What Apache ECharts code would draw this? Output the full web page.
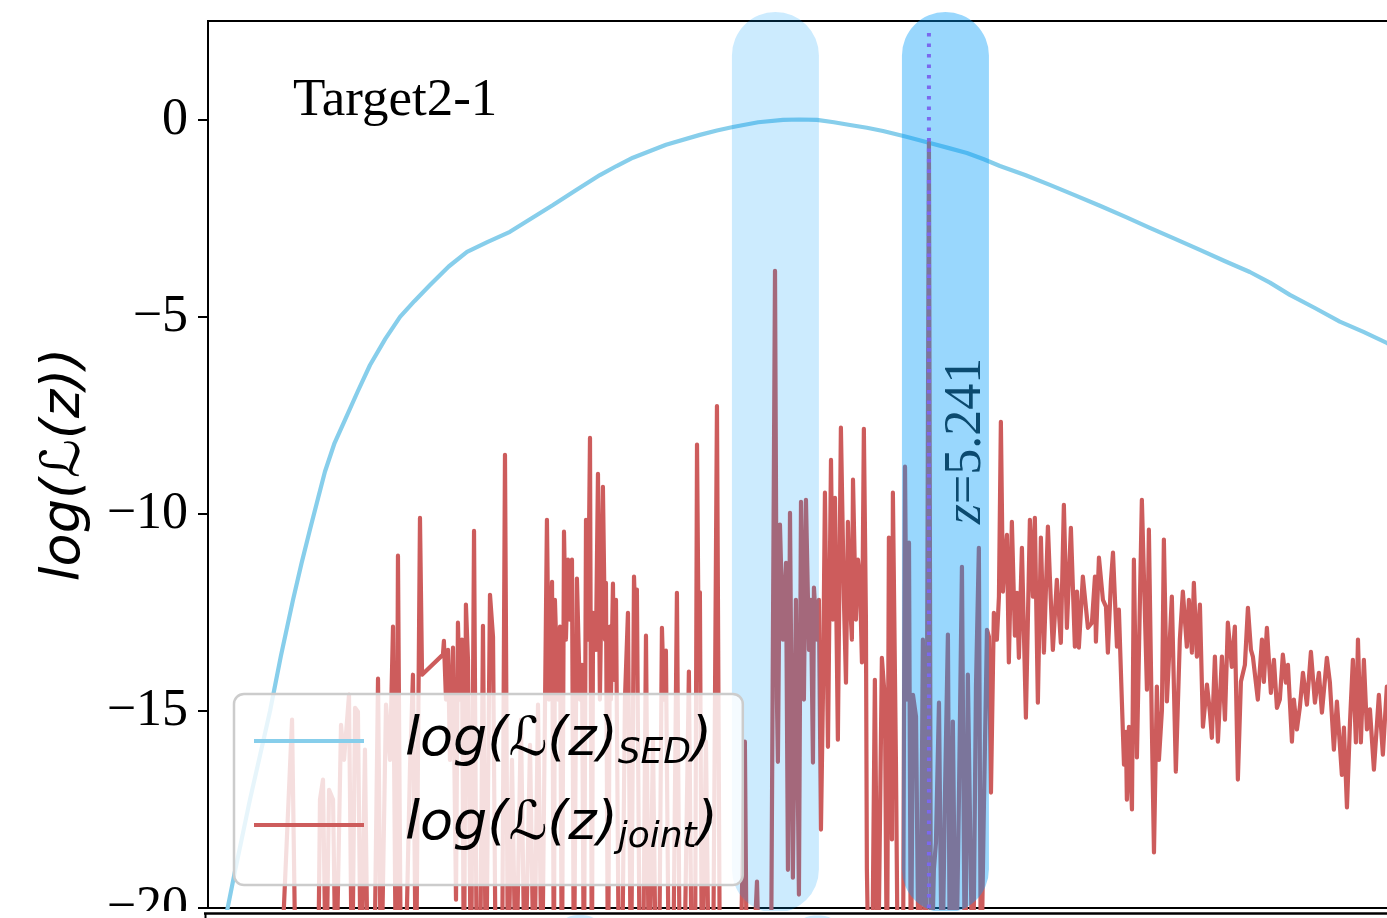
<!DOCTYPE html>
<html><head><meta charset="utf-8">
<script src="https://cdn.jsdelivr.net/npm/echarts@6/dist/echarts.min.js"></script>
<style>html,body{margin:0;padding:0;background:#fff}#c{width:1387px;height:918px}</style>
</head><body><div id="c"></div>
<script>
// ---------------- data ----------------
const yTicks = [-20, -15, -10, -5, 0];
const zBest = 5.241;
const zLabelPos = [5.51, -8.15];
const bandCenters = [4.125, 5.361];
const bandLow = -20.12, bandHigh = 2.74;

const sedZ = [0.10,0.20,0.305,0.38,0.451,0.53,0.618,0.68,0.741,0.80,0.850,0.92,0.996,1.09,1.178,1.29,1.396,1.50,1.614,1.75,1.883,2.03,2.195,2.35,2.508,2.68,2.849,2.97,3.089,3.33,3.576,3.70,3.816,4.00,4.180,4.30,4.427,4.55,4.667,4.79,4.907,5.07,5.241,5.38,5.517,5.64,5.757,5.94,6.120,6.30,6.484,6.67,6.847,7.03,7.211,7.39,7.574,7.72,7.865,8.05,8.228,8.40,8.570,8.60];
const sedV = [-20.75,-19.0,-17.25,-16.1,-15.0,-13.6,-12.18,-11.25,-10.40,-9.6,-8.93,-8.2,-7.61,-6.88,-6.22,-5.55,-5.0,-4.6,-4.19,-3.72,-3.35,-3.10,-2.84,-2.50,-2.16,-1.77,-1.40,-1.17,-0.96,-0.63,-0.38,-0.27,-0.18,-0.06,0.0,0.01,0.0,-0.06,-0.13,-0.20,-0.28,-0.42,-0.58,-0.71,-0.84,-1.0,-1.17,-1.40,-1.65,-1.91,-2.18,-2.46,-2.74,-3.02,-3.30,-3.58,-3.86,-4.13,-4.44,-4.78,-5.12,-5.38,-5.66,-5.72];

const jointZ = [0.523,0.611,0.640,0.800,0.814,0.836,0.858,0.880,0.909,0.930,0.967,0.989,1.025,1.047,1.069,1.090,1.112,1.141,1.163,1.207,1.236,1.258,1.294,1.323,1.345,1.367,1.381,1.403,1.432,1.468,1.490,1.512,1.541,1.556,1.708,1.715,1.730,1.745,1.759,1.781,1.803,1.817,1.832,1.846,1.861,1.875,1.890,1.912,1.934,1.955,1.977,1.999,2.021,2.050,2.072,2.093,2.137,2.159,2.181,2.210,2.239,2.275,2.304,2.341,2.370,2.399,2.428,2.464,2.479,2.501,2.515,2.522,2.544,2.559,2.573,2.588,2.602,2.617,2.631,2.646,2.660,2.682,2.704,2.719,2.733,2.748,2.762,2.777,2.791,2.799,2.820,2.835,2.849,2.871,2.886,2.893,2.908,2.922,2.929,2.944,2.951,2.966,2.988,3.009,3.031,3.053,3.075,3.097,3.111,3.118,3.140,3.162,3.184,3.206,3.235,3.257,3.278,3.300,3.315,3.329,3.351,3.380,3.409,3.431,3.460,3.496,3.518,3.540,3.555,3.569,3.576,3.591,3.620,3.642,3.671,3.700,3.722,3.773,3.809,3.867,3.903,3.918,3.954,3.991,4.012,4.056,4.092,4.122,4.136,4.143,4.158,4.180,4.202,4.216,4.231,4.252,4.274,4.296,4.311,4.332,4.347,4.369,4.383,4.398,4.405,4.427,4.441,4.456,4.470,4.485,4.507,4.529,4.543,4.558,4.579,4.601,4.623,4.638,4.652,4.667,4.681,4.689,4.710,4.725,4.739,4.754,4.768,4.783,4.790,4.805,4.827,4.848,4.870,4.899,4.921,4.936,4.950,4.965,4.972,4.979,5.001,5.016,5.030,5.052,5.067,5.081,5.096,5.110,5.125,5.147,5.168,5.183,5.197,5.219,5.241,5.256,5.277,5.292,5.314,5.336,5.357,5.379,5.394,5.415,5.437,5.459,5.481,5.503,5.524,5.546,5.561,5.583,5.604,5.619,5.641,5.663,5.677,5.692,5.713,5.735,5.750,5.764,5.779,5.793,5.808,5.822,5.844,5.866,5.881,5.895,5.917,5.946,5.975,5.997,6.011,6.033,6.055,6.077,6.106,6.120,6.142,6.171,6.200,6.222,6.244,6.273,6.302,6.317,6.331,6.360,6.397,6.426,6.448,6.455,6.477,6.506,6.528,6.542,6.564,6.579,6.608,6.622,6.644,6.659,6.673,6.680,6.695,6.717,6.731,6.753,6.789,6.826,6.840,6.862,6.877,6.898,6.913,6.935,6.949,6.971,7.007,7.036,7.065,7.087,7.116,7.131,7.153,7.167,7.189,7.211,7.233,7.262,7.284,7.298,7.320,7.342,7.371,7.393,7.414,7.443,7.465,7.487,7.509,7.538,7.560,7.582,7.596,7.632,7.662,7.676,7.698,7.727,7.749,7.771,7.792,7.814,7.836,7.851,7.880,7.894,7.916,7.938,7.960,7.989,8.018,8.047,8.076,8.098,8.134,8.156,8.185,8.207,8.243,8.258,8.280,8.302,8.323,8.345,8.360,8.381,8.403,8.425,8.447,8.476,8.512,8.541,8.570,8.60];
const jointV = [-22.3,-15.22,-22.5,-22.0,-17.25,-16.74,-22.3,-17.0,-17.25,-22.3,-15.35,-16.24,-14.59,-22.3,-14.92,-15.02,-22.3,-15.98,-22.3,-22.3,-14.18,-22.3,-14.84,-16.24,-12.86,-22.3,-11.06,-22.3,-22.3,-16.49,-14.08,-22.3,-10.10,-14.08,-13.57,-13.22,-14.71,-13.45,-16.24,-13.39,-19.79,-12.76,-14.71,-13.19,-22.3,-12.30,-13.70,-22.3,-10.43,-22.3,-22.3,-12.84,-22.3,-12.05,-13.12,-22.3,-22.3,-8.50,-22.3,-16.24,-22.3,-15.22,-22.3,-15.86,-22.3,-14.84,-22.3,-10.15,-14.71,-11.72,-22.3,-12.18,-14.71,-12.86,-22.3,-10.45,-13.19,-11.16,-12.68,-11.16,-22.3,-11.64,-14.71,-13.83,-22.3,-10.15,-13.19,-8.07,-22.3,-12.51,-13.45,-8.98,-14.71,-9.31,-13.19,-11.75,-22.3,-12.86,-14.71,-11.77,-14.21,-12.18,-22.3,-22.3,-14.71,-12.51,-22.3,-11.59,-13.19,-11.92,-22.3,-22.3,-13.09,-22.3,-15.73,-22.3,-22.3,-12.89,-14.71,-13.47,-22.3,-22.3,-12.0,-22.3,-22.3,-14.0,-22.3,-22.3,-8.24,-14.21,-11.99,-22.3,-15.78,-22.3,-22.3,-7.26,-22.3,-22.3,-22.3,-22.3,-15.78,-22.3,-22.3,-19.33,-22.3,-22.3,-22.3,-3.83,-14.71,-16.29,-10.27,-13.19,-11.24,-19.03,-9.97,-19.23,-12.18,-19.66,-9.69,-14.71,-9.64,-13.45,-12.18,-16.31,-11.87,-13.19,-12.18,-18.01,-14.71,-9.46,-15.91,-8.63,-12.68,-9.59,-15.73,-7.81,-12.18,-14.28,-10.20,-12.18,-13.19,-9.13,-12.68,-11.16,-11.62,-13.77,-7.84,-12.68,-19.03,-22.3,-22.3,-14.21,-22.3,-13.65,-14.71,-22.3,-10.60,-14.71,-18.26,-9.46,-16.24,-22.3,-22.3,-22.3,-8.80,-14.71,-10.73,-22.3,-14.59,-15.14,-22.3,-19.79,-13.19,-22.3,-0.58,-22.3,-19.02,-18.34,-14.79,-22.3,-17.25,-13.06,-22.3,-15.27,-22.3,-17.25,-11.34,-22.3,-14.08,-19.28,-22.3,-14.38,-10.86,-22.3,-17.33,-12.94,-13.11,-17.07,-12.51,-13.19,-12.10,-7.66,-11.97,-11.16,-10.53,-13.77,-10.20,-13.09,-12.0,-13.65,-10.86,-15.17,-10.15,-12.10,-10.10,-14.79,-10.60,-13.52,-10.32,-11.59,-13.45,-11.67,-13.27,-9.77,-12.89,-10.35,-13.37,-11.97,-13.39,-11.59,-12.89,-12.76,-11.59,-13.24,-11.11,-12.18,-12.35,-13.52,-11.72,-10.98,-13.37,-12.43,-14.79,-16.36,-15.53,-17.25,-15.40,-17.50,-11.16,-16.18,-9.64,-14.46,-10.40,-15.47,-18.59,-14.38,-16.24,-14.97,-10.65,-14.76,-12.10,-16.54,-13.19,-11.97,-13.37,-12.18,-13.52,-11.75,-13.62,-12.30,-15.40,-14.33,-15.04,-15.68,-13.62,-15.78,-13.62,-15.22,-12.76,-13.88,-12.86,-16.74,-14.26,-13.83,-12.38,-13.45,-13.62,-14.71,-13.19,-14.26,-12.89,-14.54,-13.70,-14.92,-14.71,-13.57,-14.28,-13.83,-15.78,-14.71,-15.47,-14.89,-14.03,-14.84,-13.50,-14.79,-14.03,-15.04,-13.65,-14.28,-15.98,-14.76,-16.62,-15.42,-17.45,-15.29,-13.70,-15.80,-13.19,-15.80,-13.70,-15.47,-14.96,-16.49,-14.59,-16.11,-14.38,-15.0];

// ---------------- build ----------------
const pairs = (xs, ys) => xs.map((x, i) => [x, ys[i]]);
const minus = v => (v < 0 ? '\u2212' : '') + Math.abs(v);

const chart = echarts.init(document.getElementById('c'), null, {renderer: 'canvas'});
const BAND_W = 87;
const bandColors = ['rgba(0,155,250,0.2)', 'rgba(0,155,250,0.4)'];

chart.setOption({
  animation: false,
  backgroundColor: '#fff',
  title: {
    text: 'Target2-1', left: 293, top: 75, padding: 0,
    textStyle: {fontFamily: 'Liberation Serif', fontSize: 53, fontWeight: 'normal', color: '#000'}
  },
  grid: {left: 208, top: 21, width: 1238, height: 887, show: true, outerBoundsMode: 'none', containLabel: false,
         borderColor: '#000', borderWidth: 2, backgroundColor: '#fff'},
  xAxis: {type: 'value', min: 0, max: 9, show: false},
  yAxis: {
    type: 'value', min: -20, max: 2.51, interval: 5,
    splitLine: {show: false},
    axisLine: {show: true, lineStyle: {color: '#000', width: 2}},
    axisTick: {show: true, inside: false, length: 10, lineStyle: {color: '#000', width: 2}, customValues: yTicks},
    axisLabel: {customValues: yTicks, formatter: minus, fontFamily: 'Liberation Serif', fontSize: 52, color: '#000', margin: 20},
    name: 'log(\u2112(z))', nameLocation: 'middle', nameGap: 116, nameRotate: 90,
    nameTextStyle: {fontFamily: 'DejaVu Sans', fontStyle: 'italic', fontSize: 54, color: '#000'}
  },
  legend: {
    left: 234, top: 694, orient: 'vertical',
    data: ['SED', 'joint'],
    icon: 'rect', itemWidth: 110, itemHeight: 3.8, itemGap: 22,
    padding: [16, 25, 29, 20],
    backgroundColor: 'rgba(255,255,255,0.8)',
    borderColor: '#cccccc', borderWidth: 2.5, borderRadius: 10,
    formatter: n => '{m|log(\u2112(z)}{s|' + n + '}{m|)}',
    textStyle: {
      padding: [0, 0, 0, 36],
      rich: {
        m: {fontFamily: 'DejaVu Sans', fontStyle: 'italic', fontSize: 54, lineHeight: 60, color: '#000'},
        s: {fontFamily: 'DejaVu Sans', fontStyle: 'italic', fontSize: 36, lineHeight: 36, padding: [26, 0, 0, 0], color: '#000'}
      }
    }
  },
  series: [
    {
      name: 'SED', type: 'line', data: pairs(sedZ, sedV), z: 2,
      symbol: 'none', showSymbol: false, smooth: false,
      itemStyle: {color: '#87CEEB'},
      lineStyle: {color: '#87CEEB', width: 4.2, cap: 'round', join: 'round'}
    },
    {
      name: 'joint', type: 'line', data: pairs(jointZ, jointV), z: 2,
      symbol: 'none', showSymbol: false,
      itemStyle: {color: '#CD5C5C'},
      lineStyle: {color: '#CD5C5C', width: 4.2, cap: 'round', join: 'round'}
    },
    {
      name: 'bands', type: 'custom', z: 3, clip: false,
      data: bandCenters.map(c => [c, bandLow, bandHigh]),
      encode: {x: 0, y: [1, 2]},
      renderItem: (params, api) => {
        const top = api.coord([api.value(0), api.value(2)]);
        const bot = api.coord([api.value(0), api.value(1)]);
        return {type: 'rect',
          shape: {x: top[0] - BAND_W / 2, y: top[1], width: BAND_W, height: bot[1] - top[1], r: BAND_W / 2},
          style: {fill: bandColors[params.dataIndex]}};
      }
    },
    {
      name: 'zbest', type: 'line', z: 4,
      data: [[zBest, -20], [zBest, 2.36]],
      symbol: 'none', showSymbol: false,
      lineStyle: {color: '#7B68EE', width: 4, type: [3.5, 7], cap: 'butt'}
    },
    {
      name: 'zlabel', type: 'custom', z: 5, clip: false,
      data: [zLabelPos],
      renderItem: (params, api) => {
        const p = api.coord([api.value(0), api.value(1)]);
        return {type: 'text', x: p[0], y: p[1], rotation: Math.PI / 2,
          style: {text: '{i|z}=' + zBest, fill: '#0B4A6F', font: '52px "Liberation Serif"',
            align: 'center', verticalAlign: 'middle',
            rich: {i: {fontStyle: 'italic', fontFamily: 'Liberation Serif', fontSize: 52, fill: '#0B4A6F'}}}};
      }
    }
  ],
  graphic: [
    {type: 'rect', z: 100, shape: {x: 0, y: 911, width: 1387, height: 8}, style: {fill: '#fff'}},
    {type: 'rect', z: 101, shape: {x: 557, y: 915, width: 46, height: 40, r: 23}, style: {fill: '#CCEBFE'}},
    {type: 'rect', z: 101, shape: {x: 794, y: 915.5, width: 47, height: 40, r: 23}, style: {fill: '#CCEBFE'}},
    {type: 'line', z: 102, shape: {x1: 204, y1: 913.5, x2: 1390, y2: 913.5}, style: {stroke: '#000', lineWidth: 2.5}},
    {type: 'line', z: 102, shape: {x1: 205.5, y1: 913, x2: 205.5, y2: 920}, style: {stroke: '#000', lineWidth: 2}}
  ]
});
</script></body></html>
